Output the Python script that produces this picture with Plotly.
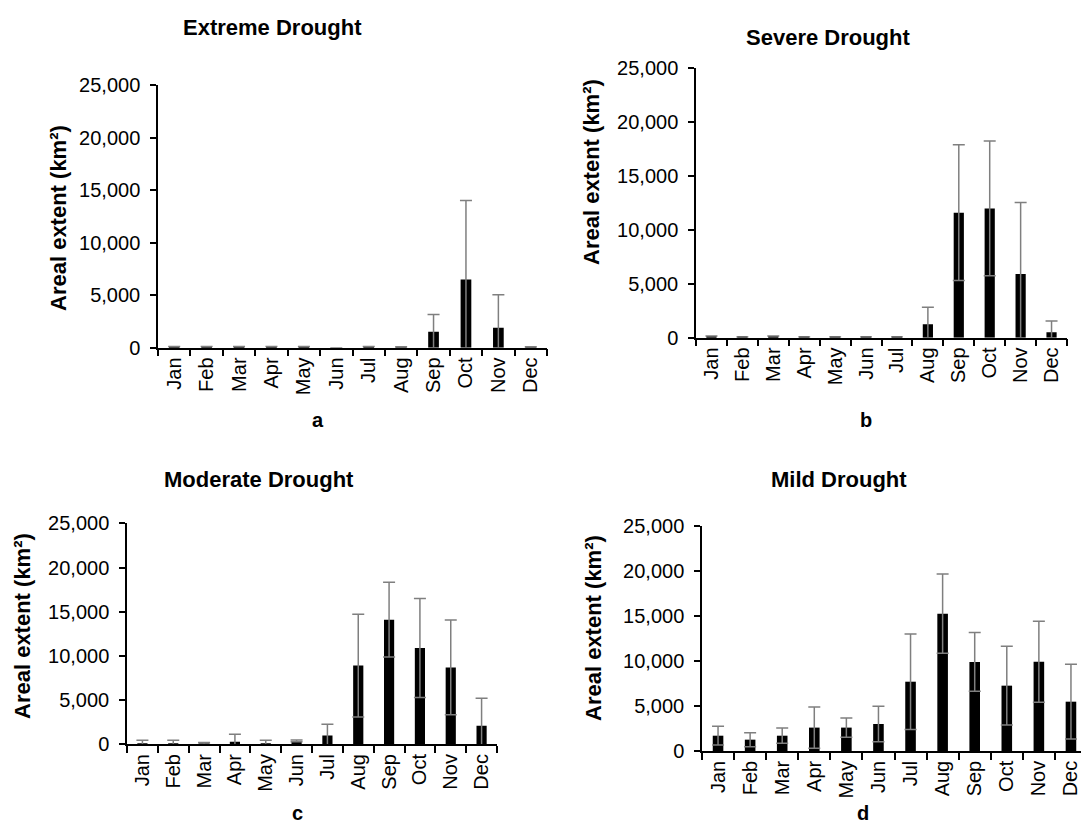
import plotly.graph_objects as go

months = ["Jan", "Feb", "Mar", "Apr", "May", "Jun", "Jul", "Aug", "Sep", "Oct", "Nov", "Dec"]

extreme_mean = [120, 120, 120, 120, 120, 0, 120, 40, 1520, 6500, 1900, 40]
extreme_err = [0, 0, 0, 0, 0, 0, 0, 40, 1650, 7500, 3150, 40]

severe_mean = [150, 60, 150, 60, 60, 60, 60, 1250, 11600, 12000, 5900, 500]
severe_err = [0, 0, 0, 0, 0, 0, 0, 1570, 6300, 6250, 6650, 1050]

moderate_mean = [50, 50, 100, 300, 50, 380, 1000, 8900, 14100, 10900, 8700, 2100]
moderate_err = [400, 400, 100, 830, 400, 100, 1280, 5800, 4230, 5600, 5350, 3100]

mild_mean = [1700, 1260, 1700, 2600, 2600, 3000, 7700, 15260, 9900, 7260, 9930, 5480]
mild_err = [1040, 780, 850, 2300, 1080, 1960, 5300, 4410, 3260, 4370, 4500, 4150]

titles = ["Extreme Drought", "Severe Drought", "Moderate Drought", "Mild Drought"]
letters = ["a", "b", "c", "d"]
ytitle = "Areal extent (km²)"
yticks = [0, 5000, 10000, 15000, 20000, 25000]

# the page body adds an 8px offset; the figure fills the rest of the window
OFF = 8
W, H = 1089 - OFF, 828 - OFF
FONT = "Liberation Sans, Arial, sans-serif"

# screen-pixel boxes for each panel: (x0, x1, ytop, ybottom)
boxes = [(158, 547, 85, 347.7), (696, 1067, 68.3, 337.7),
         (127, 497, 523.3, 744.3), (702, 1087, 526, 751)]
title_pos = [(272, 27), (828, 37), (259, 480), (839, 480)]
ytitle_pos = [(58, 218), (592, 172), (22, 626), (593, 628)]
letter_pos = [(318, 420), (866, 420), (297, 813), (863, 813)]


def px(x):
    return (x - OFF) / W


def py(y):
    return 1 - (y - OFF) / H


series = [(extreme_mean, extreme_err), (severe_mean, severe_err),
          (moderate_mean, moderate_err), (mild_mean, mild_err)]

fig = go.Figure()
annotations = []
for i, (m, e) in enumerate(series):
    sfx = "" if i == 0 else str(i + 1)
    fig.add_trace(go.Bar(
        x=months, y=m, xaxis="x" + sfx, yaxis="y" + sfx,
        marker=dict(color="black", line=dict(width=0)),
        width=0.33,
        error_y=dict(type="data", array=e, symmetric=True, color="#7f7f7f",
                     thickness=1.5, width=6),
        showlegend=False,
    ))
    x0, x1, yt, yb = boxes[i]
    fig.layout["xaxis" + sfx] = dict(
        domain=[max(0, px(x0)), min(1, px(x1))], anchor="y" + sfx, automargin=False,
        showline=True, linecolor="black", linewidth=1.5,
        ticks="outside", tickson="boundaries", ticklen=7, tickcolor="black", tickwidth=1.5,
        tickangle=-90, tickfont=dict(family=FONT, size=20, color="black"),
        showgrid=False, zeroline=False, fixedrange=True,
    )
    fig.layout["yaxis" + sfx] = dict(
        domain=[py(yb), py(yt)], anchor="x" + sfx, automargin=False,
        range=[0, 25000], tickvals=yticks, tickformat=",",
        showline=True, linecolor="black", linewidth=1.5,
        ticks="outside", ticklen=6, tickcolor="black", tickwidth=1.5,
        tickfont=dict(family=FONT, size=20, color="black"),
        ticklabelstandoff=6,
        showgrid=False, zeroline=False, fixedrange=True,
    )
    tx, ty = title_pos[i]
    annotations.append(dict(text="<b>" + titles[i] + "</b>", x=px(tx), y=py(ty),
                            xref="paper", yref="paper", showarrow=False,
                            xanchor="center", yanchor="middle",
                            font=dict(family=FONT, size=22, color="black")))
    ax, ay = ytitle_pos[i]
    annotations.append(dict(text="<b>" + ytitle + "</b>", x=px(ax), y=py(ay),
                            xref="paper", yref="paper", showarrow=False, textangle=-90,
                            xanchor="center", yanchor="middle",
                            font=dict(family=FONT, size=22, color="black")))
    lx, ly = letter_pos[i]
    annotations.append(dict(text="<b>" + letters[i] + "</b>", x=px(lx), y=py(ly),
                            xref="paper", yref="paper", showarrow=False,
                            xanchor="center", yanchor="middle",
                            font=dict(family=FONT, size=20, color="black")))

fig.update_layout(
    template="none",
    width=W, height=H, margin=dict(l=0, r=0, t=0, b=0, autoexpand=False),
    paper_bgcolor="white", plot_bgcolor="white",
    annotations=annotations, bargap=0.67,
)

fig.write_html("out.html", config={"displayModeBar": False})
